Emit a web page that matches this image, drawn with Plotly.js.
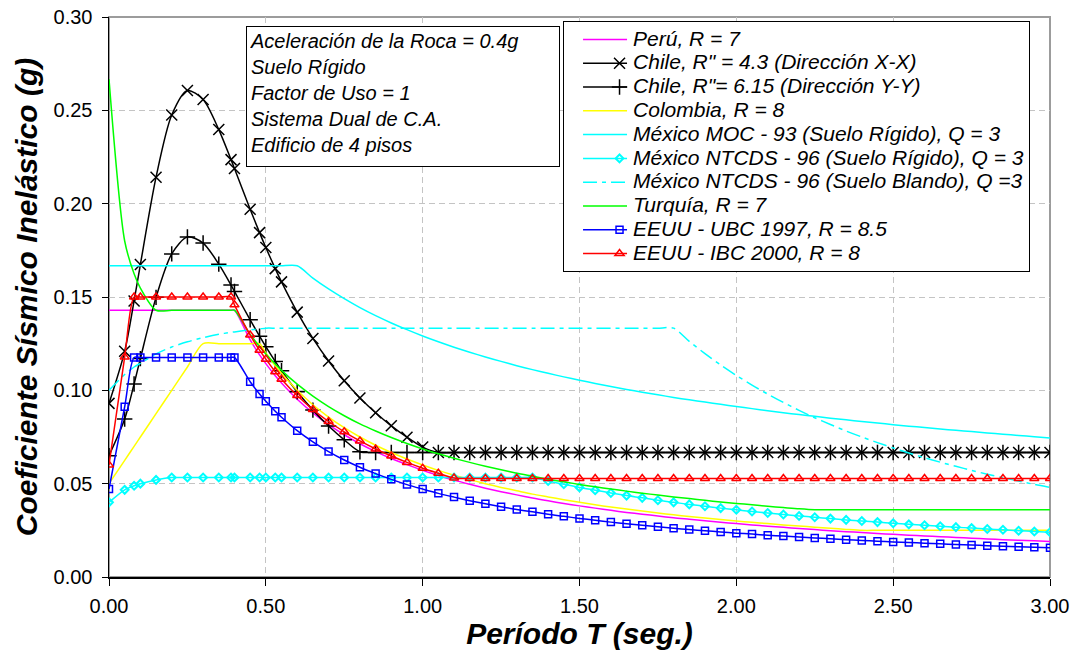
<!DOCTYPE html>
<html>
<head>
<meta charset="utf-8">
<script src="https://cdn.plot.ly/plotly-3.0.1.min.js"></script>
<style>
  html, body { margin: 0; padding: 0; background: #ffffff; }
  #chart { width: 1079px; height: 654px; }
</style>
</head>
<body>
<div id="chart"></div>
<script>
// Período T (seg.)
const T = [0, 0.05, 0.08, 0.1, 0.15, 0.2, 0.25, 0.3, 0.35, 0.389, 0.4, 0.45, 0.48, 0.5, 0.53, 0.55,
  0.6, 0.65, 0.7, 0.75, 0.8, 0.85, 0.9, 0.95, 1.0,
  1.05, 1.1, 1.15, 1.2, 1.25, 1.3, 1.35, 1.4, 1.45, 1.5,
  1.55, 1.6, 1.65, 1.7, 1.75, 1.8, 1.85, 1.9, 1.95, 2.0,
  2.05, 2.1, 2.15, 2.2, 2.25, 2.3, 2.35, 2.4, 2.45, 2.5,
  2.55, 2.6, 2.65, 2.7, 2.75, 2.8, 2.85, 2.9, 2.95, 3.0];

const peru = [0.1429, 0.1429, 0.1429, 0.1429, 0.1429, 0.1429, 0.1429, 0.1429, 0.1429, 0.1429, 0.1429, 0.1270, 0.1190, 0.1143, 0.1078, 0.1039,
  0.0952, 0.0879, 0.0816, 0.0762, 0.0714, 0.0672, 0.0635, 0.0602, 0.0571,
  0.0544, 0.0519, 0.0497, 0.0476, 0.0457, 0.0440, 0.0423, 0.0408, 0.0394, 0.0381,
  0.0369, 0.0357, 0.0346, 0.0336, 0.0327, 0.0317, 0.0309, 0.0301, 0.0293, 0.0286,
  0.0279, 0.0272, 0.0266, 0.0260, 0.0254, 0.0248, 0.0243, 0.0238, 0.0233, 0.0229,
  0.0224, 0.0220, 0.0216, 0.0212, 0.0208, 0.0204, 0.0200, 0.0197, 0.0194, 0.0190];

const chileX = [0.0930, 0.1209, 0.1479, 0.1674, 0.2142, 0.2475, 0.2606, 0.2558, 0.2397, 0.2236, 0.2188, 0.1970, 0.1845, 0.1765, 0.1652, 0.1581,
  0.1419, 0.1278, 0.1157, 0.1051, 0.0959, 0.0880, 0.0810, 0.0749, 0.0696,
  0.0667, 0.0667, 0.0667, 0.0667, 0.0667, 0.0667, 0.0667, 0.0667, 0.0667, 0.0667,
  0.0667, 0.0667, 0.0667, 0.0667, 0.0667, 0.0667, 0.0667, 0.0667, 0.0667, 0.0667,
  0.0667, 0.0667, 0.0667, 0.0667, 0.0667, 0.0667, 0.0667, 0.0667, 0.0667, 0.0667,
  0.0667, 0.0667, 0.0667, 0.0667, 0.0667, 0.0667, 0.0667, 0.0667, 0.0667, 0.0667];

const chileY = [0.0650, 0.0846, 0.1034, 0.1170, 0.1498, 0.1731, 0.1822, 0.1789, 0.1676, 0.1564, 0.1530, 0.1378, 0.1290, 0.1234, 0.1155, 0.1105,
  0.0992, 0.0894, 0.0809, 0.0735, 0.0671, 0.0667, 0.0667, 0.0667, 0.0667,
  0.0667, 0.0667, 0.0667, 0.0667, 0.0667, 0.0667, 0.0667, 0.0667, 0.0667, 0.0667,
  0.0667, 0.0667, 0.0667, 0.0667, 0.0667, 0.0667, 0.0667, 0.0667, 0.0667, 0.0667,
  0.0667, 0.0667, 0.0667, 0.0667, 0.0667, 0.0667, 0.0667, 0.0667, 0.0667, 0.0667,
  0.0667, 0.0667, 0.0667, 0.0667, 0.0667, 0.0667, 0.0667, 0.0667, 0.0667, 0.0667];

const colombia = [0.0500, 0.0625, 0.0700, 0.0750, 0.0875, 0.1000, 0.1125, 0.1250, 0.1250, 0.1250, 0.1250, 0.1250, 0.1250, 0.1200, 0.1132, 0.1091,
  0.1000, 0.0923, 0.0857, 0.0800, 0.0750, 0.0706, 0.0667, 0.0632, 0.0600,
  0.0571, 0.0545, 0.0522, 0.0500, 0.0480, 0.0462, 0.0444, 0.0429, 0.0414, 0.0400,
  0.0387, 0.0375, 0.0364, 0.0353, 0.0343, 0.0333, 0.0324, 0.0316, 0.0308, 0.0300,
  0.0293, 0.0286, 0.0279, 0.0273, 0.0267, 0.0261, 0.0255, 0.0250, 0.0250, 0.0250,
  0.0250, 0.0250, 0.0250, 0.0250, 0.0250, 0.0250, 0.0250, 0.0250, 0.0250, 0.0250];

const mexicoMOC = [0.1667, 0.1667, 0.1667, 0.1667, 0.1667, 0.1667, 0.1667, 0.1667, 0.1667, 0.1667, 0.1667, 0.1667, 0.1667, 0.1667, 0.1667, 0.1667,
  0.1667, 0.1601, 0.1543, 0.1491, 0.1443, 0.1400, 0.1361, 0.1325, 0.1291,
  0.1260, 0.1231, 0.1204, 0.1179, 0.1155, 0.1132, 0.1111, 0.1091, 0.1072, 0.1054,
  0.1037, 0.1021, 0.1005, 0.0990, 0.0976, 0.0962, 0.0949, 0.0937, 0.0925, 0.0913,
  0.0902, 0.0891, 0.0880, 0.0870, 0.0861, 0.0851, 0.0842, 0.0833, 0.0825, 0.0816,
  0.0808, 0.0801, 0.0793, 0.0786, 0.0779, 0.0772, 0.0765, 0.0758, 0.0752, 0.0745];

const mexicoRigido = [0.0400, 0.0467, 0.0489, 0.0500, 0.0520, 0.0533, 0.0533, 0.0533, 0.0533, 0.0533, 0.0533, 0.0533, 0.0533, 0.0533, 0.0533, 0.0533,
  0.0533, 0.0533, 0.0533, 0.0533, 0.0533, 0.0533, 0.0533, 0.0533, 0.0533,
  0.0533, 0.0533, 0.0533, 0.0533, 0.0533, 0.0533, 0.0533, 0.0514, 0.0497, 0.0480,
  0.0465, 0.0450, 0.0436, 0.0424, 0.0411, 0.0400, 0.0389, 0.0379, 0.0369, 0.0360,
  0.0351, 0.0343, 0.0335, 0.0327, 0.0320, 0.0313, 0.0306, 0.0300, 0.0294, 0.0288,
  0.0282, 0.0277, 0.0272, 0.0267, 0.0262, 0.0257, 0.0253, 0.0248, 0.0244, 0.0240];

const mexicoBlando = [0.1000, 0.1085, 0.1125, 0.1145, 0.1195, 0.1232, 0.1260, 0.1282, 0.1300, 0.1311, 0.1313, 0.1324, 0.1329, 0.1333, 0.1333, 0.1333,
  0.1333, 0.1333, 0.1333, 0.1333, 0.1333, 0.1333, 0.1333, 0.1333, 0.1333,
  0.1333, 0.1333, 0.1333, 0.1333, 0.1333, 0.1333, 0.1333, 0.1333, 0.1333, 0.1333,
  0.1333, 0.1333, 0.1333, 0.1333, 0.1333, 0.1333, 0.1262, 0.1197, 0.1136, 0.1080,
  0.1028, 0.0980, 0.0935, 0.0893, 0.0853, 0.0817, 0.0782, 0.0750, 0.0720, 0.0691,
  0.0664, 0.0639, 0.0615, 0.0593, 0.0571, 0.0551, 0.0532, 0.0514, 0.0496, 0.0480];

const turquia = [0.2667, 0.1800, 0.1624, 0.1548, 0.1429, 0.1429, 0.1429, 0.1429, 0.1429, 0.1429, 0.1429, 0.1300, 0.1235, 0.1195, 0.1141, 0.1107,
  0.1033, 0.0969, 0.0913, 0.0864, 0.0820, 0.0782, 0.0747, 0.0715, 0.0686,
  0.0660, 0.0636, 0.0614, 0.0593, 0.0574, 0.0556, 0.0540, 0.0524, 0.0510, 0.0496,
  0.0483, 0.0471, 0.0460, 0.0449, 0.0439, 0.0429, 0.0420, 0.0411, 0.0402, 0.0394,
  0.0387, 0.0379, 0.0372, 0.0365, 0.0360, 0.0360, 0.0360, 0.0360, 0.0360, 0.0360,
  0.0360, 0.0360, 0.0360, 0.0360, 0.0360, 0.0360, 0.0360, 0.0360, 0.0360, 0.0360];

const ubc1997 = [0.0471, 0.0912, 0.1176, 0.1176, 0.1176, 0.1176, 0.1176, 0.1176, 0.1176, 0.1176, 0.1176, 0.1046, 0.0980, 0.0941, 0.0888, 0.0856,
  0.0784, 0.0724, 0.0672, 0.0627, 0.0588, 0.0554, 0.0523, 0.0495, 0.0471,
  0.0448, 0.0428, 0.0409, 0.0392, 0.0376, 0.0362, 0.0349, 0.0336, 0.0325, 0.0314,
  0.0304, 0.0294, 0.0285, 0.0277, 0.0269, 0.0261, 0.0254, 0.0248, 0.0241, 0.0235,
  0.0230, 0.0224, 0.0219, 0.0214, 0.0209, 0.0205, 0.0200, 0.0196, 0.0192, 0.0188,
  0.0185, 0.0181, 0.0178, 0.0174, 0.0171, 0.0168, 0.0165, 0.0162, 0.0160, 0.0157];

const ibc2000 = [0.0600, 0.1179, 0.1500, 0.1500, 0.1500, 0.1500, 0.1500, 0.1500, 0.1500, 0.1500, 0.1458, 0.1296, 0.1215, 0.1167, 0.1100, 0.1060,
  0.0972, 0.0897, 0.0833, 0.0778, 0.0729, 0.0686, 0.0648, 0.0614, 0.0583,
  0.0556, 0.0530, 0.0528, 0.0528, 0.0528, 0.0528, 0.0528, 0.0528, 0.0528, 0.0528,
  0.0528, 0.0528, 0.0528, 0.0528, 0.0528, 0.0528, 0.0528, 0.0528, 0.0528, 0.0528,
  0.0528, 0.0528, 0.0528, 0.0528, 0.0528, 0.0528, 0.0528, 0.0528, 0.0528, 0.0528,
  0.0528, 0.0528, 0.0528, 0.0528, 0.0528, 0.0528, 0.0528, 0.0528, 0.0528, 0.0528];

const seriesNames = [
  'Perú, R = 7',
  'Chile, R" = 4.3 (Dirección X-X)',
  'Chile, R"= 6.15 (Dirección Y-Y)',
  'Colombia, R = 8',
  'México MOC - 93 (Suelo Rígido), Q = 3',
  'México NTCDS - 96 (Suelo Rígido), Q = 3',
  'México NTCDS - 96 (Suelo Blando), Q =3',
  'Turquía, R = 7',
  'EEUU - UBC 1997, R = 8.5',
  'EEUU - IBC 2000, R = 8'
];

const infoLines = ['Aceleración de la Roca = 0.4g', 'Suelo Rígido', 'Factor de Uso = 1', 'Sistema Dual de C.A.', 'Edificio de 4 pisos'];

const FONT = '"Liberation Sans", Arial, sans-serif';
const LW = 1.5;
function nm(s) { return '<span style="font-size:21px">' + s + '</span>'; }
function line(color, dash) { return {color: color, width: LW, shape: 'spline', smoothing: 0.8, dash: dash || 'solid'}; }

const traces = [
  {x: T, y: peru, name: nm(seriesNames[0]), mode: 'lines', line: line('#ff00ff')},
  {x: T, y: chileX, name: nm(seriesNames[1]), mode: 'lines+markers', line: line('#000000'),
   marker: {symbol: 'x-thin-open', size: 11, color: '#000000', line: {color: '#000000', width: 1.5}}},
  {x: T, y: chileY, name: nm(seriesNames[2]), mode: 'lines+markers', line: line('#000000'),
   marker: {symbol: 'cross-thin-open', size: 11, color: '#000000', line: {color: '#000000', width: 1.5}}},
  {x: T, y: colombia, name: nm(seriesNames[3]), mode: 'lines', line: line('#ffff00')},
  {x: T, y: mexicoMOC, name: nm(seriesNames[4]), mode: 'lines', line: line('#00ffff')},
  {x: T, y: mexicoRigido, name: nm(seriesNames[5]), mode: 'lines+markers', line: line('#00ffff'),
   marker: {symbol: 'diamond-open', size: 6, color: '#00ffff', line: {color: '#00ffff', width: 2}}},
  {x: T, y: mexicoBlando, name: nm(seriesNames[6]), mode: 'lines', line: line('#00ffff', '14px,5px,4px,5px')},
  {x: T, y: turquia, name: nm(seriesNames[7]), mode: 'lines', line: line('#00ff00')},
  {x: T, y: ubc1997, name: nm(seriesNames[8]), mode: 'lines+markers', line: line('#0000ff'),
   marker: {symbol: 'square-open', size: 7, color: '#0000ff', line: {color: '#0000ff', width: 1.5}}},
  {x: T, y: ibc2000, name: nm(seriesNames[9]), mode: 'lines+markers', line: line('#ff0000'),
   marker: {symbol: 'triangle-up-open', size: 8, color: '#ff0000', line: {color: '#ff0000', width: 1.5}}}
];

const axisCommon = {
  showgrid: true, gridcolor: '#c4c4c4', gridwidth: 1, griddash: '6px,4px',
  showline: true, linecolor: '#000000', linewidth: 1.5,
  ticks: 'outside', tickcolor: '#000000', tickwidth: 1,
  zeroline: false, tickformat: '.2f',
  tickfont: {family: FONT, size: 20, color: '#000000'},
  automargin: false, fixedrange: true
};

const layout = {
  width: 1079, height: 654,
  margin: {l: 109, r: 29, t: 17, b: 77},
  paper_bgcolor: '#ffffff', plot_bgcolor: '#ffffff',
  font: {family: FONT, color: '#000000'},
  showlegend: true,
  xaxis: Object.assign({}, axisCommon, {
    range: [0, 3], dtick: 0.5, tick0: 0, ticklen: 7, ticklabelstandoff: 3,
    title: {text: 'Período T (seg.)', standoff: 1,
      font: {family: FONT, size: 30, weight: 'bold', style: 'italic', color: '#000000'}}
  }),
  yaxis: Object.assign({}, axisCommon, {
    range: [0, 0.30], dtick: 0.05, tick0: 0, ticklen: 6, ticklabelstandoff: 5,
    title: {text: 'Coeficiente Sísmico Inelástico (g)', standoff: 7,
      font: {family: FONT, size: 30, weight: 'bold', style: 'italic', color: '#000000'}}
  }),
  legend: {
    x: 0.4825, y: 0.992, xanchor: 'left', yanchor: 'top',
    bgcolor: '#ffffff', bordercolor: '#000000', borderwidth: 1,
    font: {family: FONT, size: 16, style: 'italic', color: '#000000'},
    itemwidth: 59, traceorder: 'normal'
  },
  shapes: [
    {type: 'rect', xref: 'paper', yref: 'paper', x0: 0, x1: 1, y0: 0, y1: 1,
     line: {color: '#9c9c9c', width: 2}, layer: 'below'}
  ],
  annotations: [
    {xref: 'paper', yref: 'paper', x: 0.1456, y: 0.984, xanchor: 'left', yanchor: 'top',
     align: 'left', valign: 'top', showarrow: false,
     text: infoLines.join('<br>'),
     font: {family: FONT, size: 20, style: 'italic', color: '#000000'},
     bgcolor: '#ffffff', bordercolor: '#000000', borderwidth: 1, borderpad: 3,
     width: 306, height: 133}
  ]
};

Plotly.newPlot('chart', traces, layout, {displayModeBar: false, staticPlot: true}).then(function () {
  document.querySelectorAll('.legend g.layers').forEach(function (g) {
    g.setAttribute('transform', 'translate(21,0)');
  });
  document.querySelectorAll('.legend g.legendlines path').forEach(function (p) {
    p.setAttribute('d', 'M-2,0h44');
  });
});
</script>
</body>
</html>
